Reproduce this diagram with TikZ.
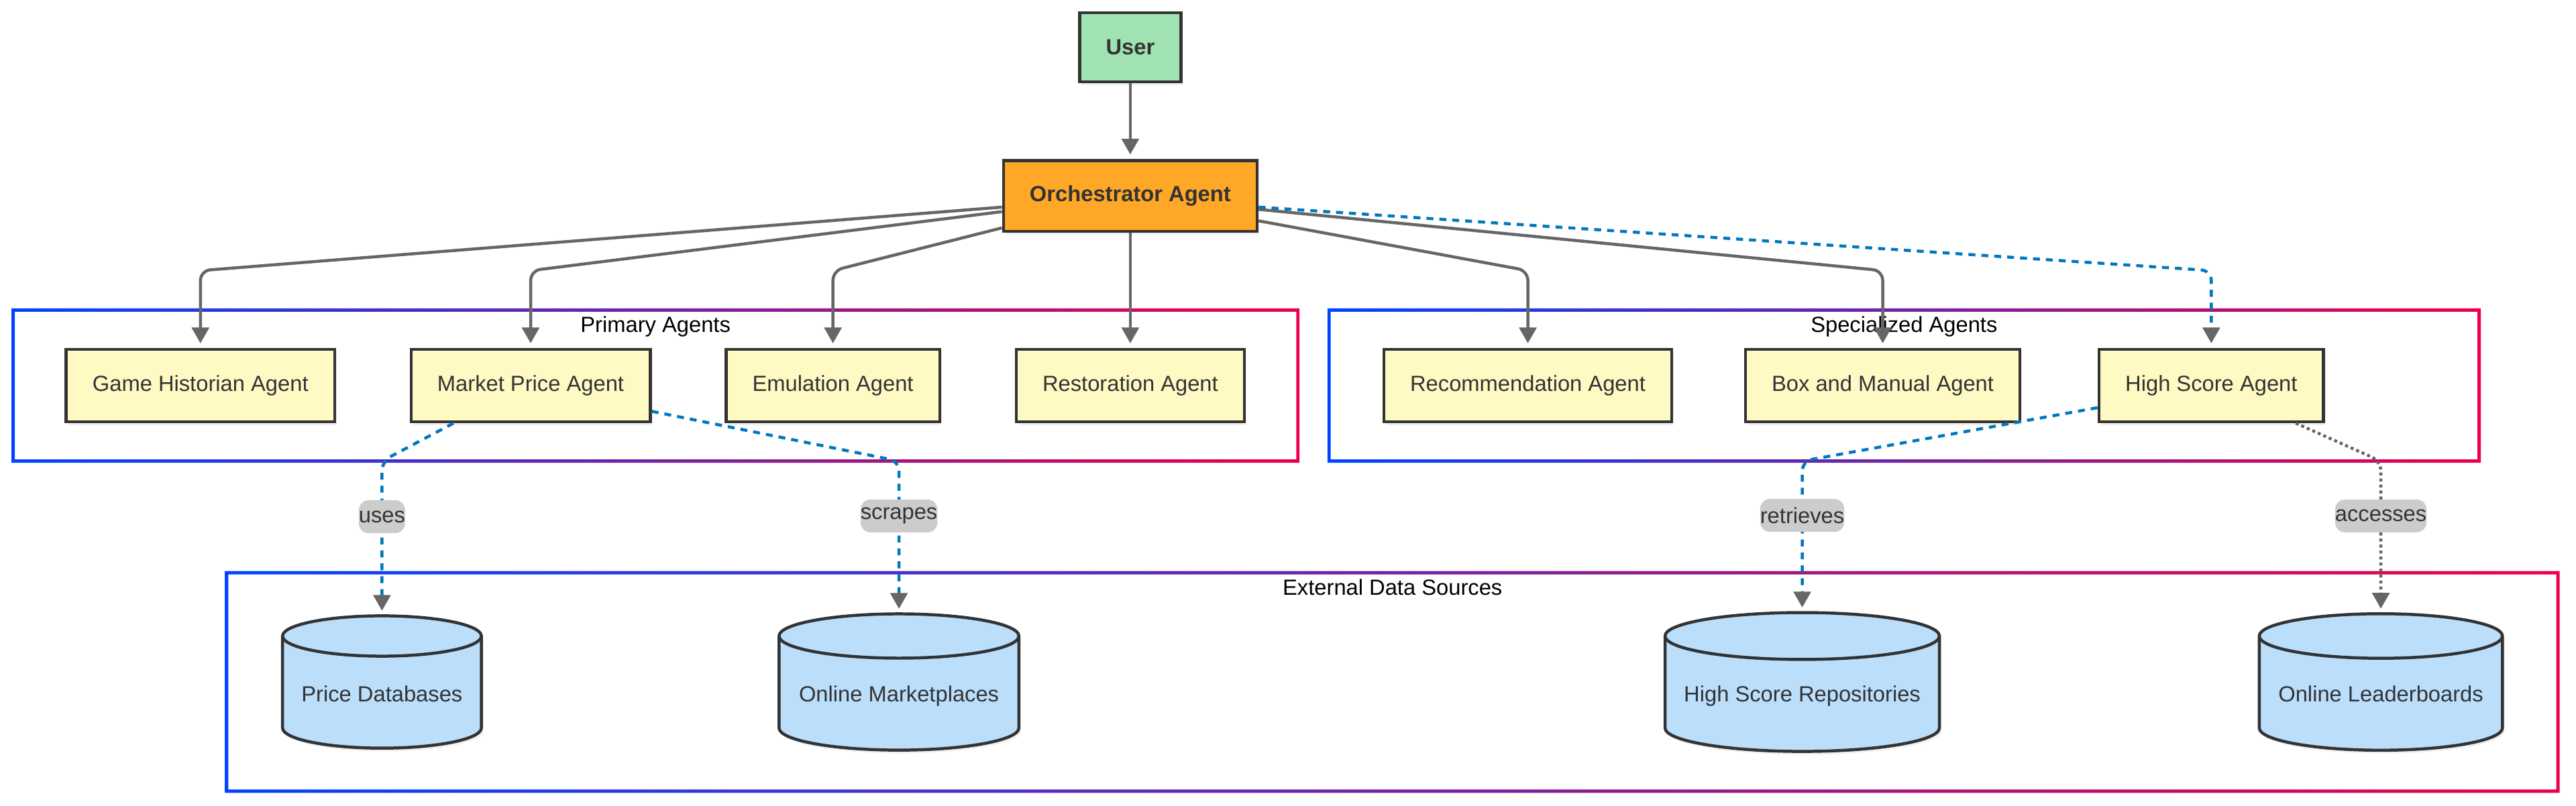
\documentclass[tikz,border=0pt]{standalone}
\usepackage{fontspec}
\setmainfont{Liberation Sans}
\usepackage{tikz}
\usetikzlibrary{arrows.meta,shapes,shadows}
\definecolor{userfill}{RGB}{160,226,178}
\definecolor{orchfill}{RGB}{255,167,38}
\definecolor{agentfill}{RGB}{255,249,196}
\definecolor{dbfill}{RGB}{187,222,251}
\definecolor{edgegray}{RGB}{102,102,102}
\definecolor{ink}{RGB}{51,51,51}
\definecolor{linkblue}{RGB}{2,119,189}
\definecolor{frameblue}{RGB}{0,68,255}
\definecolor{framered}{RGB}{235,0,72}
\definecolor{tagfill}{RGB}{204,204,204}

\begin{document}
\begin{tikzpicture}[
    font=\fontsize{9.5}{11.4}\selectfont,
    softshadow/.style={drop shadow={opacity=0.12, shadow xshift=0.03cm, shadow yshift=-0.05cm}},
    box/.style={draw=ink, line width=1.3pt, text=ink, inner xsep=0.4cm, minimum height=1.1cm, softshadow},
    lead/.style={box, font=\fontsize{9.5}{11.4}\selectfont\bfseries},
    agent/.style={box, fill=agentfill},
    dbshape/.style={draw=ink, line width=1.3pt, fill=dbfill},
    dbtext/.style={text=ink, inner sep=0pt, text height=0.6cm, text depth=0pt},
    flow/.style={-{Triangle[length=0.24cm, width=0.26cm, color=edgegray, fill=edgegray]},
        draw=edgegray, line width=1.3pt, shorten >=2pt, rounded corners=0.15cm},
    link/.style={flow, draw=linkblue, dash pattern=on 3pt off 2.6pt},
    dots/.style={flow, dash pattern=on 1.3pt off 1.3pt},
    tag/.style={fill=tagfill, text=ink, inner sep=0pt, minimum height=0.5cm}
]
\useasboundingbox (0,0) rectangle (39.2,12.27);

\foreach \xa/\ya/\xb/\yb in {0.2/5.25/19.75/7.55, 20.225/5.25/37.725/7.55, 3.45/0.225/38.925/3.55}
    \shade[left color=frameblue, right color=framered, even odd rule]
        (\xa-0.025,\ya-0.025) rectangle (\xb+0.025,\yb+0.025)
        (\xa+0.025,\ya+0.025) rectangle (\xb-0.025,\yb-0.025);

\node (prim) at (9.975,7.3) {Primary Agents};
\node (spec) at (28.975,7.3) {Specialized Agents};
\node (ext) at (21.19,3.325) {External Data Sources};

\node[lead, fill=userfill, minimum height=1.05cm] (user) at (17.2,11.55) {User};
\node[lead, fill=orchfill, minimum height=1.075cm] (orch) at (17.2,9.2875) {Orchestrator Agent};

\node[agent] (gh) at (3.05,6.4) {Game Historian Agent};
\node[agent] (mp) at (8.075,6.4) {Market Price Agent};
\node[agent] (emu) at (12.675,6.4) {Emulation Agent};
\node[agent] (rest) at (17.2,6.4) {Restoration Agent};
\node[agent] (rec) at (23.25,6.4) {Recommendation Agent};
\node[agent] (bm) at (28.65,6.4) {Box and Manual Agent};
\node[agent] (hs) at (33.65,6.4) {High Score Agent};

\foreach \n/\x/\w/\ry/\txt in {pdb/5.8125/1.5125/0.307/Price Databases,
        omk/13.68/1.825/0.337/Online Marketplaces,
        hsr/27.425/2.0875/0.357/High Score Repositories,
        olb/36.23/1.85/0.339/Online Leaderboards} {
    \begin{scope}[shift={(\x,1.8875)}]
        \filldraw[dbshape, softshadow] (-\w,0.7) -- (-\w,-0.7)
            arc[start angle=180, end angle=360, x radius=\w, y radius=\ry] -- (\w,0.7)
            arc[start angle=0, end angle=180, x radius=\w, y radius=\ry] -- cycle;
        \draw[dbshape, fill=none] (-\w,0.7) arc[start angle=180, end angle=360, x radius=\w, y radius=\ry];
    \end{scope}
    \node[dbtext, minimum width={2*\w cm}, minimum height={1.4cm+2*\ry cm}] (\n) at (\x,1.8875) {\txt};
}

\coordinate (bendtop) at (0,8.15);
\coordinate (bendlow) at (0,5.25);

\draw[flow] (user) -- (orch);
\draw[flow] (orch.185) -- (gh |- bendtop) -- (gh);
\draw[flow] (orch.187) -- (mp |- bendtop) -- (mp);
\draw[flow] (orch.194) -- (emu |- bendtop) -- (emu);
\draw[flow] (orch) -- (rest);
\draw[flow] (orch.349) -- (rec |- bendtop) -- (rec);
\draw[flow] (orch.354) -- (bm |- bendtop) -- (bm);
\draw[link] (orch.355) -- (hs |- bendtop) -- (hs);

\draw[link] (mp.206) -- (pdb |- bendlow) -- node[tag, pos=0.36] (tuses) {uses} (pdb);
\draw[link] (mp.348) -- (omk |- bendlow) -- node[tag, pos=0.36] (tscrapes) {scrapes} (omk);
\draw[link] (hs.191) -- (hsr |- bendlow) -- node[tag, pos=0.36] (tretrieves) {retrieves} (hsr);
\draw[dots] (hs.336) -- (olb |- bendlow) -- node[tag, pos=0.36] (taccesses) {accesses} (olb);
\end{tikzpicture}
\end{document}
